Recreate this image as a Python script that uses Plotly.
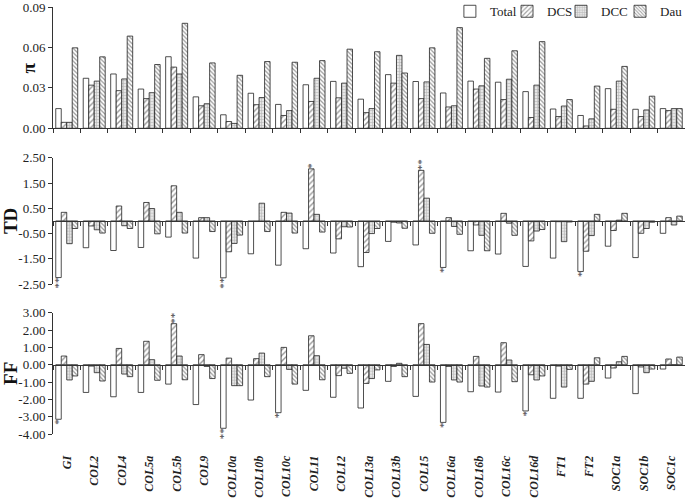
import plotly.graph_objects as go

genes = ["GI", "COL2", "COL4", "COL5a", "COL5b", "COL9", "COL10a", "COL10b", "COL10c", "COL11",
         "COL12", "COL13a", "COL13b", "COL15", "COL16a", "COL16b", "COL16c", "COL16d", "FT1", "FT2",
         "SOC1a", "SOC1b", "SOC1c"]
series_names = ["Total", "DCS", "DCC", "Dau"]

pi_total = [0.0146, 0.0371, 0.0403, 0.0291, 0.0531, 0.0233, 0.0100, 0.0260, 0.0177, 0.0323, 0.0348, 0.0216,
            0.0398, 0.0347, 0.0262, 0.0350, 0.0342, 0.0272, 0.0143, 0.0095, 0.0294, 0.0141, 0.0146]
pi_dcs = [0.0044, 0.0320, 0.0279, 0.0220, 0.0454, 0.0167, 0.0050, 0.0175, 0.0095, 0.0199, 0.0226, 0.0116,
          0.0335, 0.0220, 0.0158, 0.0291, 0.0213, 0.0080, 0.0087, 0.0017, 0.0141, 0.0087, 0.0131]
pi_dcc = [0.0044, 0.0350, 0.0366, 0.0264, 0.0403, 0.0182, 0.0036, 0.0228, 0.0131, 0.0371, 0.0335, 0.0146,
          0.0541, 0.0344, 0.0167, 0.0315, 0.0364, 0.0320, 0.0165, 0.0070, 0.0350, 0.0136, 0.0146]
pi_dau = [0.0597, 0.0530, 0.0684, 0.0473, 0.0779, 0.0485, 0.0393, 0.0495, 0.0490, 0.0502, 0.0587, 0.0568,
          0.0410, 0.0597, 0.0747, 0.0519, 0.0575, 0.0643, 0.0213, 0.0313, 0.0459, 0.0238, 0.0146]

td_total = [-2.24, -1.06, -1.17, -1.05, -0.64, -1.47, -2.25, -1.30, -1.75, -1.10, -1.27, -1.81,
            -0.81, -0.95, -1.84, -1.18, -1.31, -1.80, -1.47, -2.00, -1.00, -1.45, -0.49]
td_dcs = [0.34, -0.20, 0.59, 0.73, 1.39, 0.13, -1.22, -0.02, 0.34, 2.06, -0.71, -1.25,
          -0.05, 2.00, 0.13, -0.16, 0.30, -0.79, -0.03, -1.20, -0.38, -0.49, 0.13]
td_dcc = [-0.90, -0.35, -0.19, 0.49, 0.34, 0.13, -0.89, 0.70, 0.31, 0.26, -0.23, -0.50,
          -0.08, 0.90, -0.22, -0.57, -0.09, -0.40, -0.82, -0.58, 0.03, -0.30, -0.16]
td_dau = [-0.30, -0.48, -0.30, -0.51, -0.48, -0.42, -0.56, -0.42, -0.48, -0.44, -0.24, -0.30,
          -0.29, -0.49, -0.53, -1.18, -0.57, -0.34, -0.04, 0.26, 0.30, -0.05, 0.19]

ff_total = [-3.15, -1.60, -1.85, -1.60, -1.12, -2.30, -3.67, -2.04, -2.77, -1.48, -1.88, -2.50,
            -0.96, -1.83, -3.33, -1.56, -1.58, -2.67, -1.94, -1.94, -0.77, -1.67, -0.25]
ff_dcs = [0.50, -0.08, 0.94, 1.35, 2.37, 0.58, 0.38, 0.35, 1.00, 1.67, -0.63, -1.08,
          -0.10, 2.37, -0.10, 0.48, 1.27, -0.58, -0.08, -1.12, -0.19, -0.13, 0.33]
ff_dcc = [-0.88, -0.46, -0.54, 0.29, 0.50, -0.10, -1.21, 0.67, -0.27, 0.52, -0.20, -0.80,
          0.08, 1.17, -0.88, -1.23, 0.27, -0.88, -1.29, -0.96, 0.17, -0.46, -0.02]
ff_dau = [-0.65, -0.94, -0.69, -0.90, -0.87, -0.80, -1.21, -0.69, -1.12, -0.87, -0.50, -0.30,
          -0.69, -1.00, -1.00, -1.29, -0.98, -0.65, -0.27, 0.40, 0.48, -0.25, 0.44]

# significance marks
td_sig_total = ["**", "", "", "", "", "", "**", "", "", "", "", "", "", "", "*", "", "", "", "", "*", "", "", ""]
td_sig_dcs = ["", "", "", "", "", "", "", "", "", "*", "", "", "", "**", "", "", "", "", "", "", "", "", ""]
ff_sig_total = ["*", "", "", "", "", "", "**", "", "*", "", "", "", "", "", "*", "", "", "*", "", "", "", "", ""]
ff_sig_dcs = ["", "", "", "", "**", "", "", "", "", "", "", "", "", "", "", "", "", "", "", "", "", "", ""]
blank = [""] * len(genes)

pi_ticks = [0.0, 0.03, 0.06, 0.09]
pi_ticktext = ["0.00", "0.03", "0.06", "0.09"]
td_ticks = [-2.5, -1.5, -0.5, 0.5, 1.5, 2.5]
td_ticktext = ["-2.50", "-1.50", "-0.50", "0.50", "1.50", "2.50"]
ff_ticks = [-4, -3, -2, -1, 0, 1, 2, 3]
ff_ticktext = ["-4.00", "-3.00", "-2.00", "-1.00", "0.00", "1.00", "2.00", "3.00"]

FONT = "Liberation Serif"

patterns = [
    dict(shape="", fillmode="overlay", bgcolor="white"),
    dict(shape="/", fillmode="overlay", fgcolor="#333", bgcolor="white", size=4, solidity=0.35),
    dict(shape="+", fillmode="overlay", fgcolor="#888", bgcolor="#e6e6e6", size=3, solidity=0.35),
    dict(shape="\\", fillmode="overlay", fgcolor="#333", bgcolor="white", size=3, solidity=0.4),
]
legend_ids = ["legend", "legend2", "legend3", "legend4"]
legend_x = [0.628, 0.7184, 0.8038, 0.8972]

panels = [
    ("x", "y", [pi_total, pi_dcs, pi_dcc, pi_dau], [blank, blank, blank, blank]),
    ("x2", "y2", [td_total, td_dcs, td_dcc, td_dau], [td_sig_total, td_sig_dcs, blank, blank]),
    ("x3", "y3", [ff_total, ff_dcs, ff_dcc, ff_dau], [ff_sig_total, ff_sig_dcs, blank, blank]),
]

fig = go.Figure()
for pi_idx, (xa, ya, vals, sigs) in enumerate(panels):
    for s, name in enumerate(series_names):
        fig.add_trace(go.Bar(
            x=genes, y=vals[s], name=name, xaxis=xa, yaxis=ya,
            legendgroup=name, showlegend=(pi_idx == 0), legend=legend_ids[s],
            marker=dict(color="white", line=dict(color="#222", width=0.8), pattern=patterns[s]),
            text=sigs[s], textposition="outside", textangle=-90, constraintext="none",
            textfont=dict(family=FONT, size=11, color="#444"), cliponaxis=False,
        ))

# invisible trace to carry the category label axis
fig.add_trace(go.Scatter(x=[0], y=[0], xaxis="x4", yaxis="y3", mode="markers",
                         marker=dict(opacity=0), showlegend=False, hoverinfo="skip"))

doms = {"y": [0.716, 1.0], "y2": [0.351, 0.647], "y3": [0.0, 0.284]}
ranges = {"y": [0, 0.09], "y2": [-2.5, 2.5], "y3": [-4, 3]}


def zero_pos(key):
    d0, d1 = doms[key]
    lo, hi = ranges[key]
    return d0 + (0 - lo) / (hi - lo) * (d1 - d0)


xcommon = dict(type="category", tickson="boundaries", ticks="outside", ticklen=4, tickcolor="#333",
               showline=True, linecolor="#333", linewidth=1, showticklabels=False, showgrid=False,
               zeroline=False, domain=[0, 1], automargin=False)
ycommon = dict(showline=True, linecolor="#333", linewidth=1, ticks="outside", ticklen=4, tickcolor="#333",
               showgrid=False, zeroline=False, tickmode="array", automargin=False,
               ticklabeloverflow="allow",
               tickfont=dict(family=FONT, size=13, color="#222"))
tfont = dict(family=FONT, size=19, color="#111", weight="bold")

legend_layout = {
    lid: dict(orientation="h", x=lx, xanchor="left", y=1.025, yanchor="top",
              bgcolor="rgba(0,0,0,0)", font=dict(family=FONT, size=13, color="#222"),
              itemwidth=30, tracegroupgap=0)
    for lid, lx in zip(legend_ids, legend_x)
}

fig.update_layout(
    width=685, height=503,
    margin=dict(l=53, r=0, t=7, b=69, autoexpand=False),
    paper_bgcolor="white", plot_bgcolor="white",
    barmode="group", bargap=0.2, bargroupgap=0.0,
    font=dict(family=FONT, size=13, color="#222"),
    xaxis=dict(**xcommon, anchor="y"),
    xaxis2=dict(**xcommon, anchor="free", position=zero_pos("y2")),
    xaxis3=dict(**xcommon, anchor="free", position=zero_pos("y3")),
    xaxis4=dict(overlaying="x3", anchor="y3", domain=[0, 1], range=[-0.5, len(genes) - 0.5],
                tickmode="array", tickvals=list(range(len(genes))), ticktext=genes, tickangle=-90,
                showline=False, showgrid=False, zeroline=False, ticks="outside", ticklen=16,
                tickcolor="rgba(0,0,0,0)", automargin=False, ticklabeloverflow="allow",
                tickfont=dict(family=FONT, size=12, color="#222", weight="bold", style="italic")),
    yaxis=dict(**ycommon, domain=doms["y"], range=ranges["y"], tickvals=pi_ticks, ticktext=pi_ticktext,
               anchor="x"),
    yaxis2=dict(**ycommon, domain=doms["y2"], range=ranges["y2"], tickvals=td_ticks, ticktext=td_ticktext,
                anchor="x2", title=dict(text="TD", font=tfont, standoff=11)),
    yaxis3=dict(**ycommon, domain=doms["y3"], range=ranges["y3"], tickvals=ff_ticks, ticktext=ff_ticktext,
                anchor="x3", title=dict(text="FF", font=tfont, standoff=11)),
    annotations=[dict(text="π", xref="paper", yref="paper", x=-0.038, y=sum(doms["y"]) / 2,
                      xanchor="center", yanchor="middle", textangle=-90, showarrow=False, font=tfont)],
    **legend_layout,
)

fig.write_html("out.html", config={"displayModeBar": False},
               post_script="document.body.style.margin='0';document.body.style.overflow='hidden';")
